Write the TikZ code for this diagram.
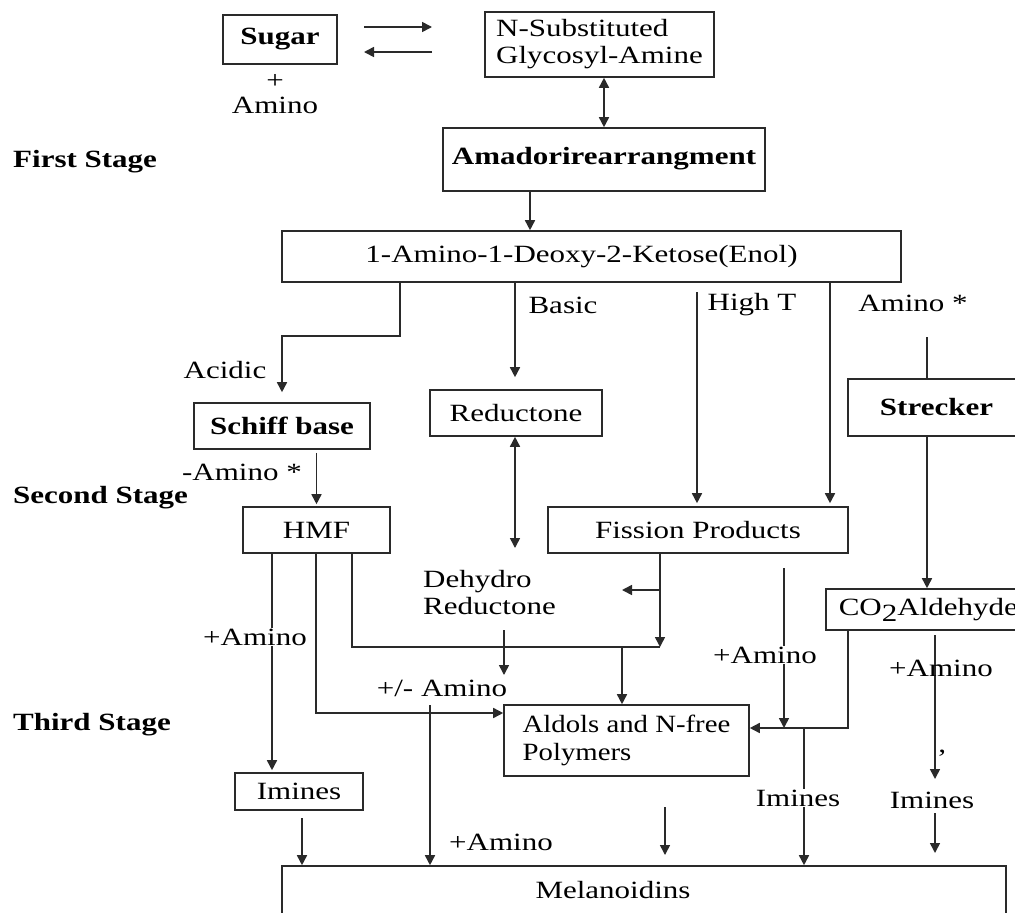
\documentclass[tikz,border=0pt]{standalone}
\usepackage{fontspec}
\setmainfont[FakeStretch=1.25]{Liberation Serif}
\newfontfamily\narrowfont[FakeStretch=1.16]{Liberation Serif}
\usetikzlibrary{arrows.meta}
\definecolor{linec}{HTML}{2A2A2A}
\begin{document}
\begin{tikzpicture}[x=1pt,y=-1pt,
  every node/.style={font=\fontsize{24.8}{27}\selectfont, text=black},
  box/.style={draw=linec, line width=1.6pt, inner sep=0pt},
  lbl/.style={inner sep=1pt},
  wlbl/.style={fill=white, inner sep=1pt},
  conn/.style={draw=linec, line width=1.6pt},
  arr/.style={conn, -{Triangle[length=10pt,width=10pt]}},
  darr/.style={conn, {Triangle[length=10pt,width=10pt]}-{Triangle[length=10pt,width=10pt]}}]
\fill[white] (0,0) rectangle (1015,913);
\useasboundingbox (0,0) rectangle (1015,913);

% boxes
\node[box, minimum width=114, minimum height=49] (sugar) at (280,39.5) {\bfseries Sugar};
\node[box, minimum width=229, minimum height=65, align=left] (nsub) at (599.5,44.5) {N-Substituted\\Glycosyl-Amine};
\node[box, minimum width=322, minimum height=63] (amadori) at (604,159.5) {\raisebox{6.5pt}{\bfseries Amadorirearrangment}};
\node[box, minimum width=619, minimum height=51] (amino1) at (591.5,256.5) {1-Amino-1-Deoxy-2-Ketose(Enol)\hspace*{20pt}};
\node[box, minimum width=176, minimum height=46] (schiff) at (282,426) {\bfseries Schiff base};
\node[box, minimum width=172, minimum height=46] (reductone) at (516,413) {Reductone};
\node[box, minimum width=177, minimum height=57] (strecker) at (936.5,407.5) {\bfseries Strecker};
\node[box, minimum width=147, minimum height=46] (hmf) at (316.5,530) {HMF};
\node[box, minimum width=300, minimum height=46] (fission) at (698,530) {Fission Products};
\node[box, minimum height=41, inner xsep=13pt, anchor=west] (co2) at (825,609.5) {CO\raisebox{-6pt}[0pt][0pt]{2}Aldehyde};
\node[box, minimum width=245, minimum height=71, align=left, font=\narrowfont\fontsize{24.8}{28}\selectfont] (aldols) at (626.5,740.5) {Aldols and N-free\\Polymers};
\node[box, minimum width=128, minimum height=37] (imines1) at (299,791.5) {Imines};
\node[box, minimum width=724, minimum height=74] (melan) at (644,903) {};
\node[lbl] (melantext) at (613,890) {Melanoidins};

% stage labels
\node[lbl, anchor=west] (first) at (12,162) {\bfseries First Stage};
\node[lbl, anchor=west] (second) at (12,498) {\bfseries Second Stage};
\node[lbl, anchor=west] (third) at (12,725) {\bfseries Third Stage};

% plain labels
\node[lbl, align=center] (plusamino) at (275,94) {+\\[-2pt]Amino};
\node[lbl] (acidic) at (225,370) {Acidic};
\node[lbl] (minusamino) at (242,472) {-Amino *};
\node[lbl] (basic) at (563,305) {Basic};
\node[lbl] (hight) at (752,305) {High T};
\node[lbl] (aminostar) at (913,303) {Amino *};
\node[lbl, anchor=west, align=left] (dehydro) at (422,592.5) {Dehydro\\Reductone};
\node[lbl] (pmamino) at (442,688) {+/- Amino};
\node[lbl] (plusA2) at (501,842) {+Amino};
\node[lbl] (imines3) at (932,800) {Imines};

% coordinates for free ends
\coordinate (r1s) at (364,27);
\coordinate (r1e) at (432,27);
\coordinate (l1s) at (432,52);
\coordinate (l1e) at (364,52);
\coordinate (hts) at (697,292);
\coordinate (sts) at (927,337);
\coordinate (dr) at (515,548);
\coordinate (fj) at (660,647);
\coordinate (fb) at (660,590);
\coordinate (fbe) at (622,590);
\coordinate (dj) at (622,647);
\coordinate (ds) at (504,630);
\coordinate (de) at (504,675);
\coordinate (ims) at (302,818);
\coordinate (pms) at (430,705);
\coordinate (ras) at (784,568);
\coordinate (rae) at (784,728);
\coordinate (ij) at (804,728);
\coordinate (fa1) at (665,807);
\coordinate (fa2) at (665,855);
\coordinate (ca1) at (935,635);
\coordinate (ca2) at (935,779);
\coordinate (ca3) at (935,813);
\coordinate (ca4) at (935,853);

% connectors
\draw[arr] (r1s) -- (r1e);
\draw[arr] (l1s) -- (l1e);
\draw[darr] (nsub.south -| 604,0) -- (amadori.north -| 604,0);
\draw[arr] (amadori.south -| 530,0) -- (amino1.north -| 530,0);
\draw[arr, shorten >=10pt] (amino1.south -| 400,0) -- (400,336) -- (282,336) -- (schiff.north);
\draw[arr, shorten >=12pt] (amino1.south -| 515,0) -- (reductone.north -| 515,0);
\draw[arr, shorten >=3pt] (hts) -- (fission.north -| hts);
\draw[arr, shorten >=3pt] (amino1.south -| 830,0) -- (fission.north -| 830,0);
\draw[conn] (sts) -- (strecker.north -| sts);
\draw[arr] (strecker.south -| sts) -- (co2.north -| sts);
\draw[arr, shorten >=2pt] ([yshift=-3pt]schiff.south -| hmf.north) -- (hmf.north);
\draw[darr] (reductone.south -| dr) -- (dr);
\draw[arr] (fission.south -| fj) -- (fj);
\draw[arr] (fb) -- (fbe);
\draw[conn] (hmf.south -| 352,0) -- (352,647) -- (fj);
\draw[arr] (dj) -- (aldols.north -| dj);
\draw[arr] (ds) -- (de);
\draw[arr] (hmf.south -| 316,0) -- (316,713) -- (aldols.west |- 0,713);
\draw[arr, shorten >=2pt] (hmf.south -| 272,0) -- (imines1.north -| 272,0);
\draw[arr] (ims) -- (melan.north -| ims);
\draw[arr] (pms) -- (melan.north -| pms);
\draw[arr] (ras) -- (rae);
\draw[arr] (co2.south -| 848,0) -- (848,728) -- (aldols.east |- 0,728);
\draw[arr] (ij) -- (melan.north -| ij);
\draw[arr] (fa1) -- (fa2);
\draw[arr] (ca1) -- (ca2);
\draw[arr] (ca3) -- (ca4);

% labels that sit on lines
\node[wlbl] (plusA1) at (255,637) {+Amino};
\node[wlbl] (plusA3) at (765,655) {+Amino};
\node[lbl] (plusA4) at (941,668) {+Amino};
\node[lbl] (tick) at (942,758) {’};
\node[wlbl] (imines2) at (798,798) {Imines};
\end{tikzpicture}
\end{document}
